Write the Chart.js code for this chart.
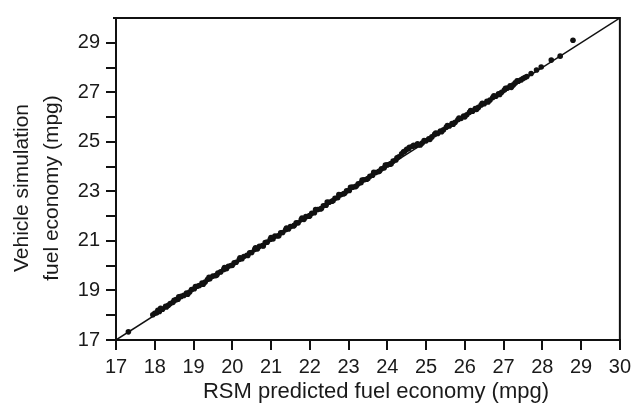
<!DOCTYPE html>
<html>
<head>
<meta charset="utf-8">
<script src="https://cdn.jsdelivr.net/npm/chart.js@4/dist/chart.umd.min.js"></script>
<style>
  html, body { margin: 0; padding: 0; background: #fff; }
  #wrap { width: 636px; height: 406px; }
</style>
</head>
<body>
<div id="wrap"><canvas id="fuelChart" width="636" height="406"></canvas></div>
<script>
// RSM predicted vs vehicle simulation fuel economy (mpg)
const rsmPredicted = [
  17.32, 17.95, 18.0, 18.05, 18.12, 18.2, 18.28, 18.35, 18.4, 18.47,
  18.55, 18.6, 18.68, 18.75, 18.82, 18.9, 18.95, 19.02, 19.1, 19.15,
  19.22, 19.3, 19.36, 19.42, 19.5, 19.57, 19.63, 19.7, 19.78, 19.85,
  19.9, 19.97, 20.05, 20.1, 20.18, 20.25, 20.3, 20.38, 20.45, 20.5,
  20.58, 20.65, 20.7, 20.78, 20.85, 20.9, 20.98, 21.05, 21.1, 21.17,
  21.25, 21.3, 21.38, 21.45, 21.5, 21.58, 21.65, 21.7, 21.78, 21.85,
  21.9, 21.98, 22.05, 22.12, 22.2, 22.27, 22.35, 22.42, 22.5, 22.57,
  22.65, 22.72, 22.8, 22.87, 22.95, 23.02, 23.1, 23.17, 23.25, 23.32,
  23.4, 23.47, 23.55, 23.62, 23.7, 23.77, 23.85, 23.92, 24.0, 24.07,
  24.15, 24.22, 24.3, 24.37, 24.45, 24.5, 24.57, 24.65, 24.72, 24.8,
  24.9, 25.0, 25.07, 25.15, 25.22, 25.3, 25.37, 25.45, 25.52, 25.6,
  25.67, 25.75, 25.82, 25.9, 25.97, 26.05, 26.12, 26.2, 26.27, 26.35,
  26.42, 26.5, 26.57, 26.65, 26.72, 26.8, 26.87, 26.95, 27.02, 27.1,
  27.17, 27.25, 27.3, 27.38, 27.45, 27.55, 27.71, 27.97, 28.23, 28.46,
  28.79,
  18.08, 18.15, 18.3, 18.5, 18.62, 18.85, 19.05, 19.25, 19.4, 19.6,
  19.8, 20.0, 20.2, 20.4, 20.6, 20.8, 21.0, 21.2, 21.4, 21.6,
  21.8, 22.0, 22.15, 22.3, 22.45, 22.6, 22.75, 22.9, 23.05, 23.2,
  23.35, 23.5, 23.65, 23.8, 23.95, 24.1, 24.25, 24.42, 24.55, 24.68,
  24.78, 24.85, 24.95, 25.1, 25.25, 25.4, 25.55, 25.7, 25.85, 26.0,
  26.15, 26.3, 26.45, 26.6, 26.75, 26.9, 27.05, 27.2, 27.35, 27.5,
  27.6, 27.85
];
const vehicleSim = [
  17.33, 18.02, 18.08, 18.1, 18.15, 18.24, 18.36, 18.4, 18.47, 18.52,
  18.63, 18.65, 18.76, 18.8, 18.9, 18.94, 19.04, 19.07, 19.17, 19.2,
  19.3, 19.34, 19.44, 19.47, 19.58, 19.6, 19.7, 19.75, 19.85, 19.88,
  19.98, 20.01, 20.12, 20.14, 20.25, 20.28, 20.37, 20.42, 20.52, 20.53,
  20.66, 20.68, 20.78, 20.81, 20.93, 20.95, 21.07, 21.08, 21.2, 21.2,
  21.33, 21.34, 21.46, 21.48, 21.58, 21.6, 21.73, 21.73, 21.86, 21.87,
  21.98, 22.0, 22.12, 22.14, 22.27, 22.29, 22.42, 22.44, 22.56, 22.6,
  22.72, 22.74, 22.86, 22.9, 23.02, 23.04, 23.17, 23.19, 23.31, 23.35,
  23.47, 23.49, 23.61, 23.65, 23.76, 23.79, 23.91, 23.95, 24.07, 24.1,
  24.22, 24.27, 24.4, 24.52, 24.62, 24.7, 24.78, 24.82, 24.84, 24.88,
  24.95, 25.04, 25.12, 25.2, 25.3, 25.34, 25.44, 25.49, 25.59, 25.64,
  25.74, 25.79, 25.89, 25.94, 26.04, 26.09, 26.19, 26.24, 26.34, 26.39,
  26.49, 26.54, 26.64, 26.69, 26.79, 26.84, 26.94, 27.0, 27.09, 27.17,
  27.26, 27.3, 27.38, 27.45, 27.5, 27.6, 27.76, 28.02, 28.3, 28.46,
  29.1,
  18.2, 18.28, 18.33, 18.6, 18.74, 18.85, 19.16, 19.25, 19.53, 19.62,
  19.92, 20.02, 20.32, 20.41, 20.72, 20.8, 21.14, 21.21, 21.52, 21.63,
  21.92, 22.02, 22.27, 22.31, 22.57, 22.62, 22.87, 22.92, 23.16, 23.22,
  23.46, 23.52, 23.77, 23.82, 24.06, 24.12, 24.36, 24.6, 24.72, 24.86,
  24.92, 24.87, 25.05, 25.1, 25.36, 25.41, 25.66, 25.71, 25.96, 26.01,
  26.26, 26.31, 26.56, 26.61, 26.86, 26.91, 27.16, 27.2, 27.46, 27.56,
  27.64, 27.9
];
// 1:1 reference line
const lineX = [17, 30];
const lineY = [17, 30];

const axisMin = 17;
const axisMax = 30;
const xTitle = 'RSM predicted fuel economy (mpg)';
const yTitle = ['Vehicle simulation', 'fuel economy (mpg)'];

const ink = '#111';
const textInk = '#1a1a1a';
const tickFont = { family: 'Liberation Sans', size: 20 };

// frame on top/right + axis titles
const framePlugin = {
  id: 'frame',
  afterDraw(chart) {
    const { ctx, chartArea: a } = chart;
    ctx.save();
    ctx.strokeStyle = ink;
    ctx.lineWidth = 2;
    ctx.beginPath();
    ctx.moveTo(a.left - 3, a.top);
    ctx.lineTo(a.right, a.top);
    ctx.lineTo(a.right, a.bottom);
    ctx.stroke();

    ctx.fillStyle = textInk;
    ctx.textAlign = 'center';
    ctx.textBaseline = 'alphabetic';
    ctx.font = '22px "Liberation Sans"';
    ctx.fillText(xTitle, 376, 398);

    ctx.font = '21px "Liberation Sans"';
    ctx.translate(28, 188);
    ctx.rotate(-Math.PI / 2);
    ctx.fillText(yTitle[0], 0, 0);
    ctx.fillText(yTitle[1], 0, 30);
    ctx.restore();
  }
};

new Chart(document.getElementById('fuelChart'), {
  type: 'scatter',
  data: {
    datasets: [
      {
        data: lineX.map((x, i) => ({ x, y: lineY[i] })),
        showLine: true,
        borderColor: ink,
        borderWidth: 1.5,
        pointRadius: 0,
        order: 2
      },
      {
        data: rsmPredicted.map((x, i) => ({ x, y: vehicleSim[i] })),
        backgroundColor: ink,
        borderColor: ink,
        borderWidth: 0,
        pointRadius: 2.8,
        order: 1
      }
    ]
  },
  options: {
    responsive: false,
    animation: false,
    devicePixelRatio: 1,
    layout: { padding: { top: 10, right: 14, left: 0, bottom: 0 } },
    plugins: { legend: { display: false }, tooltip: { enabled: false } },
    scales: {
      x: {
        min: axisMin,
        max: axisMax,
        afterFit: (s) => { s.height = 66; },
        ticks: { stepSize: 1, color: textInk, font: tickFont, padding: 5, maxRotation: 0, autoSkip: false },
        grid: { drawOnChartArea: false, drawTicks: true, tickLength: 10, color: ink, lineWidth: 2 },
        border: { display: true, color: ink, width: 2 }
      },
      y: {
        min: axisMin,
        max: axisMax,
        afterFit: (s) => { s.width = 116; },
        ticks: {
          stepSize: 1,
          color: textInk,
          font: tickFont,
          padding: 6,
          autoSkip: false,
          callback: (v) => (v % 2 === 1 ? String(v) : '')
        },
        grid: {
          drawOnChartArea: false,
          drawTicks: true,
          tickLength: 10,
          lineWidth: 2,
          color: (c) => (c.tick && c.tick.value === axisMax ? 'rgba(0,0,0,0)' : ink)
        },
        border: { display: true, color: ink, width: 2 }
      }
    }
  },
  plugins: [framePlugin]
});
</script>
</body>
</html>
